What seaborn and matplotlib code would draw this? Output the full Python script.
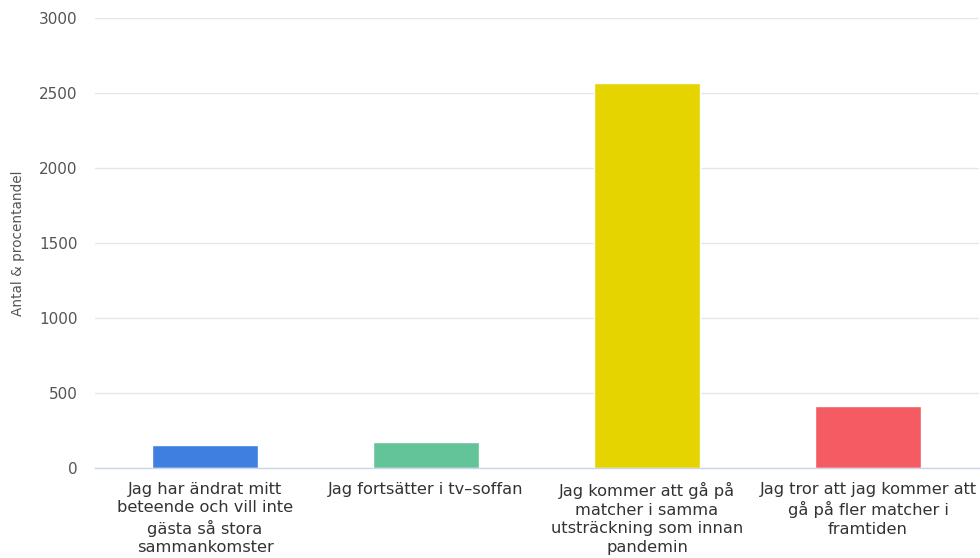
import matplotlib
matplotlib.use("Agg")
import matplotlib.pyplot as plt
import seaborn as sns
import pandas as pd

categories = [
    "Jag har ändrat mitt\nbeteende och vill inte\ngästa så stora\nsammankomster",
    "Jag fortsätter i tv–soffan",
    "Jag kommer att gå på\nmatcher i samma\nutsträckning som innan\npandemin",
    "Jag tror att jag kommer att\ngå på fler matcher i\nframtiden",
]
values = [153, 175, 2570, 413]
colors = ["#3F7FE0", "#63C49A", "#E6D400", "#F45B63"]
yticks = [0, 500, 1000, 1500, 2000, 2500, 3000]
ylabel = "Antal & procentandel"

sns.set_theme(style="white")
plt.rcParams['font.family'] = ['DejaVu Sans']

df = pd.DataFrame({"cat": categories, "val": values})

fig = plt.figure(figsize=(9.8, 5.58), dpi=100)
ax = fig.add_axes([94.5/980, 90/558, 884/980, 450/558])

sns.barplot(data=df, x="cat", y="val", hue="cat", palette=colors,
            width=0.48, legend=False, ax=ax, saturation=1)

ax.set_ylim(0, 3000)
ax.set_yticks(yticks)
ax.set_yticklabels([str(t) for t in yticks])
ax.set_xlim(-0.5, 3.5)
ax.grid(axis="y", color="#E6E6E6", linewidth=1)
ax.set_axisbelow(True)
for s in ["top", "right", "left"]:
    ax.spines[s].set_visible(False)
ax.spines["bottom"].set_color("#CCD6EB")
ax.spines["bottom"].set_linewidth(1)

ax.tick_params(axis="y", length=0, pad=12, labelsize=11, labelcolor="#555555")
ax.tick_params(axis="x", length=0, pad=10, labelsize=11.7, labelcolor="#333333")
for lab in ax.get_xticklabels():
    lab.set_linespacing(1.3)
    lab.set_ha("center")

ax.set_xlabel("")
ax.set_ylabel(ylabel, fontsize=9.8, color="#555555", labelpad=10)

fig.savefig("out.png", dpi=100)
